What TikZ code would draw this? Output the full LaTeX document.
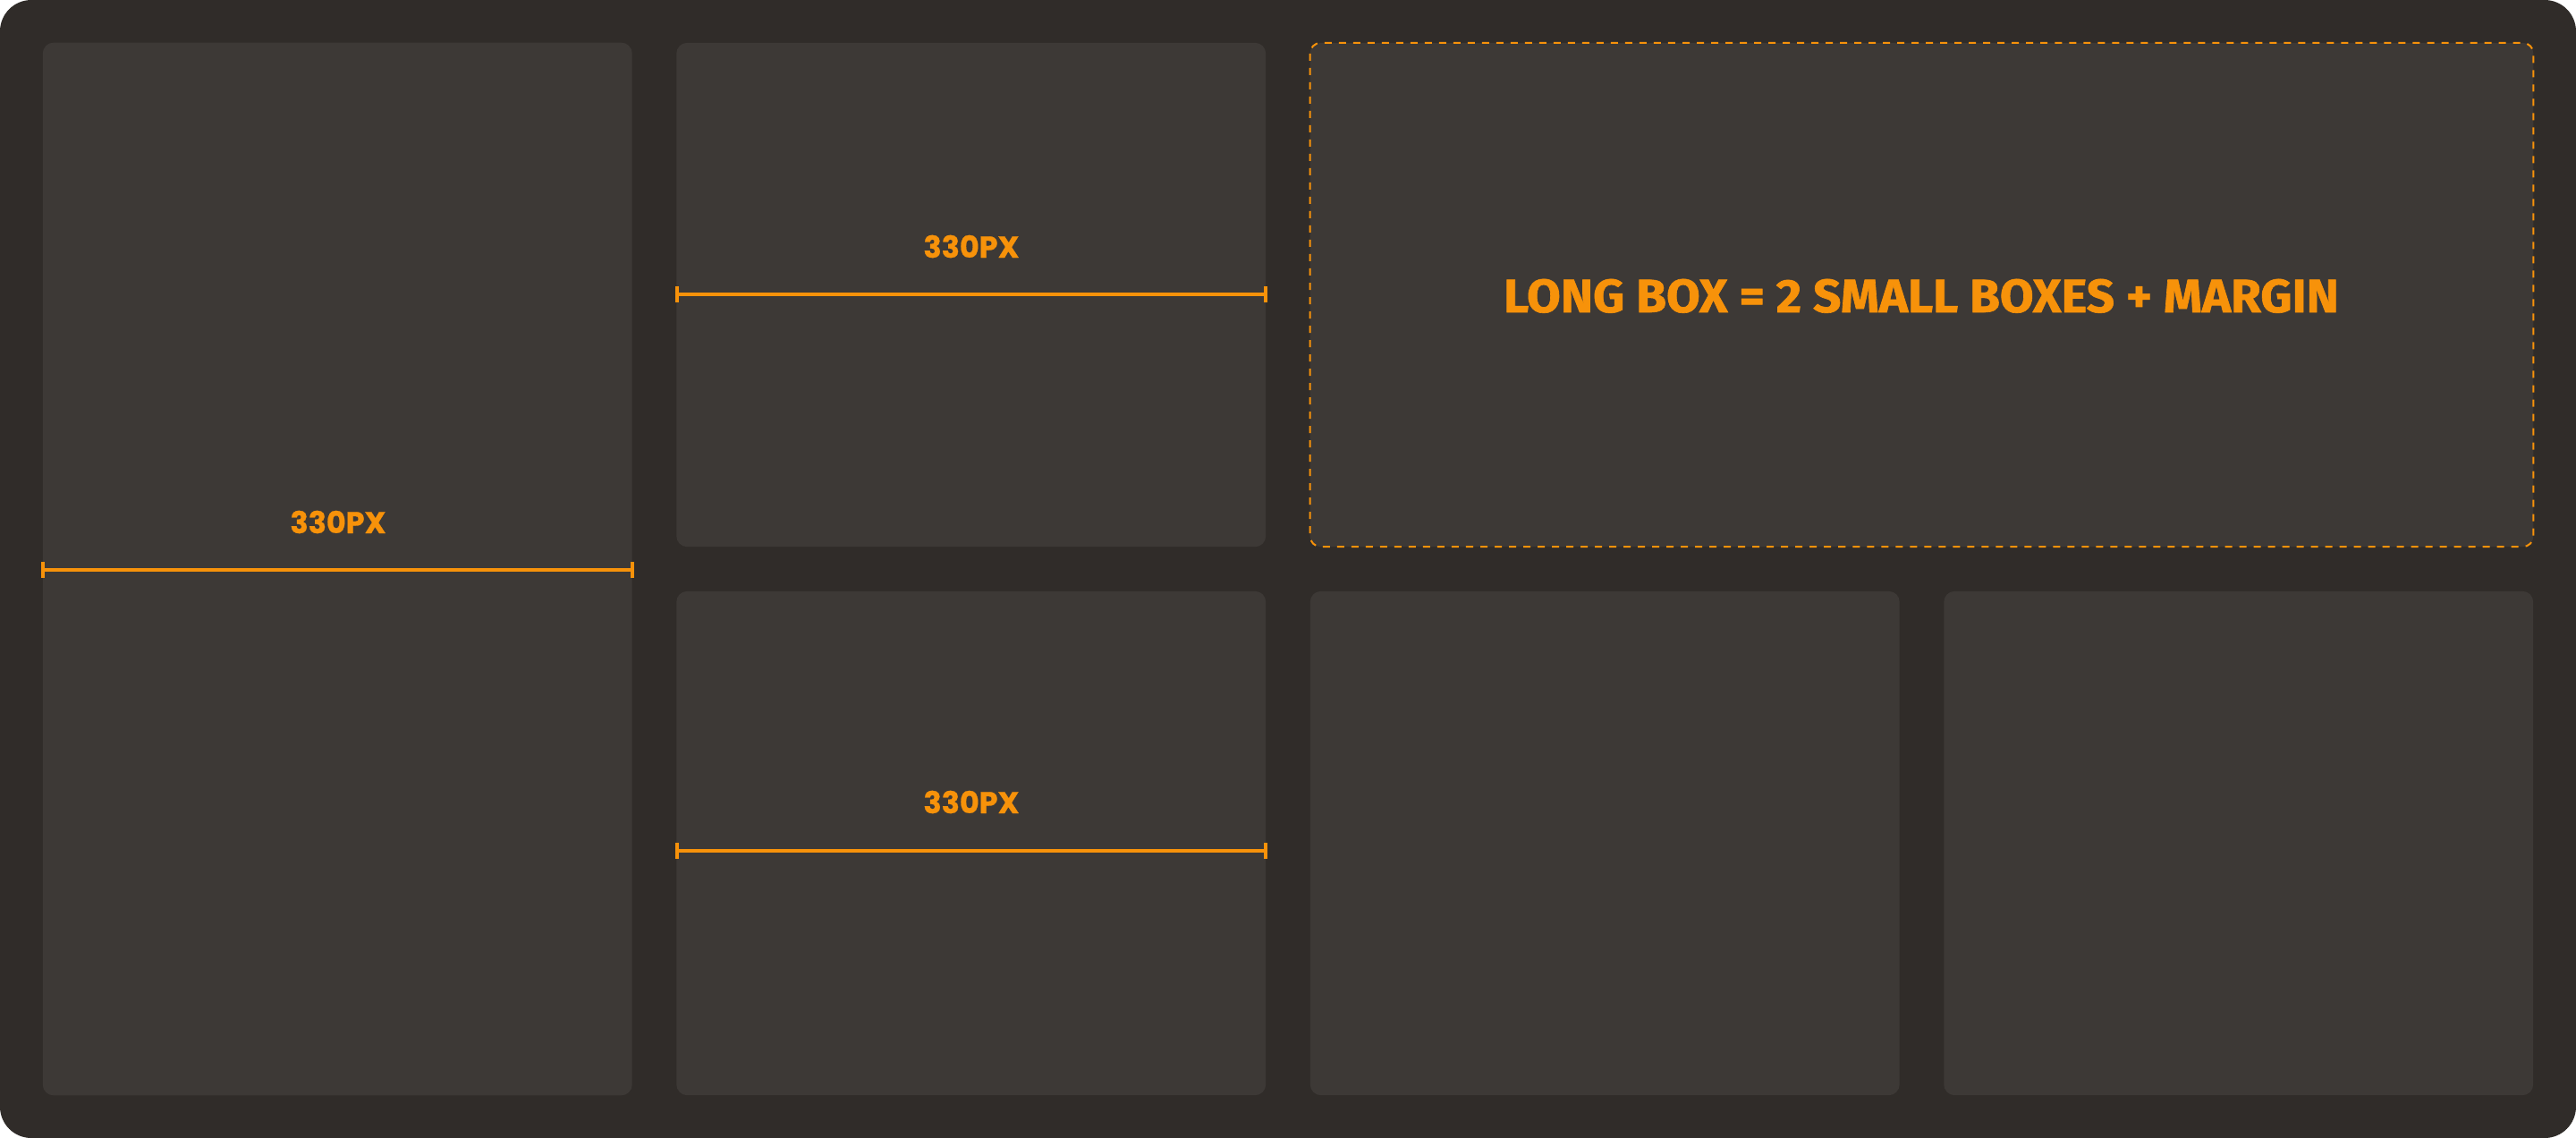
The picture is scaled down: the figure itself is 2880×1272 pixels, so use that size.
\documentclass[tikz,border=0pt]{standalone}
\usepackage{fontspec}
\usepackage{graphicx}
\setmainfont{Fira Sans}
\newfontfamily\dimfont{Poppins}[BoldFeatures={FakeBold=0.8}]
\newfontfamily\bigfont{Fira Sans}[BoldFeatures={FakeBold=1.2}]
\definecolor{outerbg}{HTML}{302C29}
\definecolor{boxbg}{HTML}{3D3936}
\definecolor{accent}{HTML}{F7920A}
\tikzset{
  panel/.style={fill=boxbg, draw=none, rounded corners=0.12cm, inner sep=0pt, outer sep=0pt,
    minimum width=6.585cm, minimum height=5.63cm},
  dimline/.style={draw=accent, line width=0.04cm},
  dimtick/.style={draw=accent, line width=0.04cm},
  dimlabel/.style={text=accent, anchor=base, inner sep=0pt, font=\dimfont\bfseries\fontsize{9.6pt}{10pt}\selectfont},
  biglabel/.style={text=accent, anchor=base, inner sep=0pt, font=\bigfont\bfseries\fontsize{14.9pt}{16pt}\selectfont},
  longdash/.style={draw=accent, line width=0.02cm, dash pattern=on 0.08cm off 0.08cm}
}
\begin{document}
\begin{tikzpicture}[x=0.01cm, y=-0.01cm]
\useasboundingbox (0,0) rectangle (2880,1272);
\fill[outerbg, rounded corners=0.35cm] (0,0) rectangle (2880,1272);

% panels
\node[panel, minimum height=11.76cm] (tall) at (377.25,636) {};
\node[panel] (midtop) at (1085.75,329.5) {};
\node[panel] (midbot) at (1085.75,942.5) {};
\node[panel, minimum width=13.67cm] (long) at (2148.5,329.5) {};
\node[panel] (botA) at (1794.25,942.5) {};
\node[panel] (botB) at (2502.75,942.5) {};

% dashed outline of long box
\draw[longdash, rounded corners=0.12cm] (long.north west) rectangle (long.south east);

% dimension coordinates
\coordinate (t1) at (48,637);
\coordinate (t2) at (706.5,637);
\coordinate (m1) at (756.5,329);
\coordinate (m2) at (1415,329);
\coordinate (n1) at (756.5,951);
\coordinate (n2) at (1415,951);

\foreach \a/\b in {t1/t2, m1/m2, n1/n2}{
  \draw[dimline] (\a) -- (\b);
  \draw[dimtick] ([yshift=0.09cm]\a) -- ([yshift=-0.09cm]\a);
  \draw[dimtick] ([yshift=0.09cm]\b) -- ([yshift=-0.09cm]\b);
}

% labels
\node[dimlabel] (lt) at (378,596) {\resizebox{1.07cm}{\height}{330PX}};
\node[dimlabel] (lm) at (1086,288) {\resizebox{1.07cm}{\height}{330PX}};
\node[dimlabel] (lb) at (1086,909) {\resizebox{1.07cm}{\height}{330PX}};
\node[biglabel] (ll) at (2148,349) {\resizebox{9.33cm}{\height}{LONG BOX = 2 SMALL BOXES + MARGIN}};
\end{tikzpicture}
\end{document}
